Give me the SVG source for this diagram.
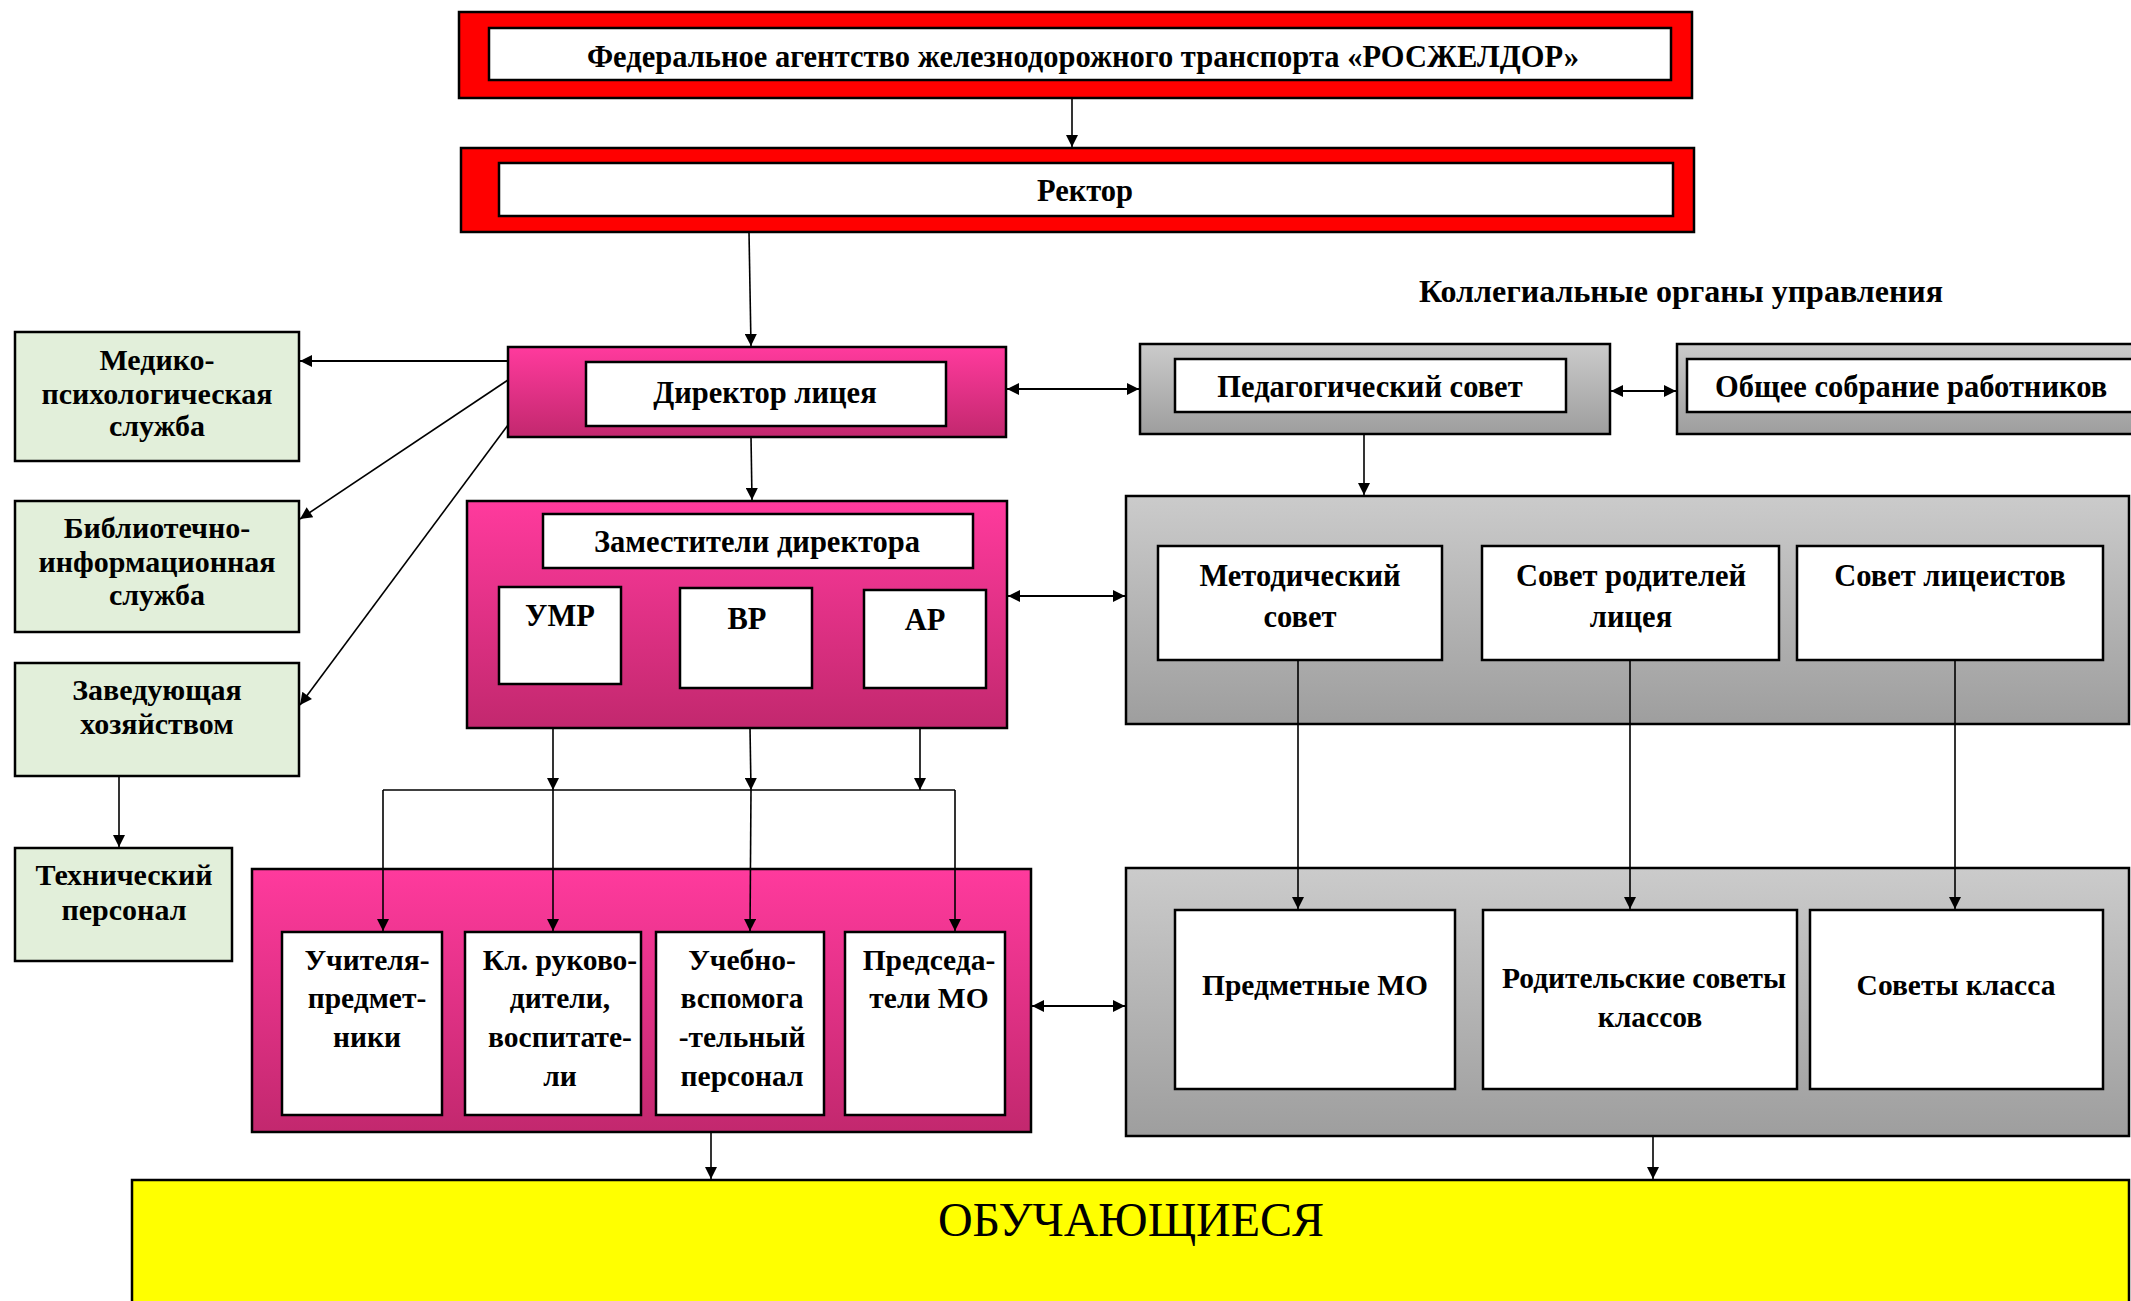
<svg xmlns="http://www.w3.org/2000/svg" width="2131" height="1301" viewBox="0 0 2131 1301">
<style>
text{font-family:"Liberation Serif","Times New Roman",serif;font-weight:bold;font-size:30.5px;fill:#000;text-anchor:middle}
.sm{font-size:29.5px}
.gr{font-size:30px}
.red{fill:#FF0000;stroke:#000;stroke-width:2.5}
.white{fill:#FFFFFF;stroke:#000;stroke-width:2.5}
.pink{fill:url(#gPink);stroke:#000;stroke-width:2.5}
.gray{fill:url(#gGray);stroke:#000;stroke-width:2.5}
.green{fill:#E2EFDA;stroke:#000;stroke-width:2.5}
.yellow{fill:#FFFF00;stroke:#000;stroke-width:2.5}
.c{fill:none;stroke:#000;stroke-width:1.6}
.c2{fill:none;stroke:#000;stroke-width:2.2}
.a{marker-end:url(#ah)}
.d{marker-start:url(#ah);marker-end:url(#ah)}
</style>
<defs>
<linearGradient id="gPink" x1="0" y1="0" x2="0" y2="1">
<stop offset="0" stop-color="#FF3A9D"/>
<stop offset="1" stop-color="#C2286E"/>
</linearGradient>
<linearGradient id="gGray" x1="0" y1="0" x2="0" y2="1">
<stop offset="0" stop-color="#CBCBCB"/>
<stop offset="1" stop-color="#9E9E9E"/>
</linearGradient>
<marker id="ah" viewBox="0 0 10 10" refX="10" refY="5" markerUnits="userSpaceOnUse" markerWidth="16" markerHeight="12" orient="auto-start-reverse">
<path d="M0,0 L10,5 L0,10 z" fill="#000"/>
</marker>
</defs>

<g id="n-fed">
<rect class="red" x="459" y="12" width="1233" height="86"/>
<rect class="white" x="489" y="28" width="1182" height="52"/>
<text x="1083" y="67">Федеральное агентство железнодорожного транспорта «РОСЖЕЛДОР»</text>
</g>

<g id="n-rector">
<rect class="red" x="461" y="148" width="1233" height="84"/>
<rect class="white" x="499" y="163" width="1174" height="53"/>
<text x="1085" y="201">Ректор</text>
</g>

<g id="n-director">
<rect class="pink" x="508" y="347" width="498" height="90"/>
<rect class="white" x="586" y="362" width="360" height="64"/>
<text x="765" y="403">Директор лицея</text>
</g>

<g id="n-medical">
<rect class="green" x="15" y="332" width="284" height="129"/>
<text class="gr" x="157" y="370">Медико-</text>
<text class="gr" x="157" y="404">психологическая</text>
<text class="gr" x="157" y="436">служба</text>
</g>

<g id="n-library">
<rect class="green" x="15" y="501" width="284" height="131"/>
<text class="gr" x="157" y="538">Библиотечно-</text>
<text class="gr" x="157" y="572">информационная</text>
<text class="gr" x="157" y="605">служба</text>
</g>

<g id="n-household">
<rect class="green" x="15" y="663" width="284" height="113"/>
<text class="gr" x="157" y="700">Заведующая</text>
<text class="gr" x="157" y="734">хозяйством</text>
</g>

<g id="n-tech">
<rect class="green" x="15" y="848" width="217" height="113"/>
<text class="gr" x="124" y="885">Технический</text>
<text class="gr" x="124" y="920">персонал</text>
</g>

<g id="n-deputies">
<rect class="pink" x="467" y="501" width="540" height="227"/>
<rect class="white" x="543" y="514" width="430" height="54"/>
<text x="757" y="552">Заместители директора</text>
<rect class="white" x="499" y="587" width="122" height="97"/>
<text x="560" y="626">УМР</text>
<rect class="white" x="680" y="588" width="132" height="100"/>
<text x="747" y="629">ВР</text>
<rect class="white" x="864" y="590" width="122" height="98"/>
<text x="925" y="630">АР</text>
</g>

<g id="n-collegial-title">
<text x="1681" y="302" style="font-size:32px">Коллегиальные органы управления</text>
</g>

<g id="n-pedsovet">
<rect class="gray" x="1140" y="344" width="470" height="90"/>
<rect class="white" x="1175" y="359" width="391" height="53"/>
<text x="1370" y="397">Педагогический совет</text>
</g>

<g id="n-general">
<rect class="gray" x="1677" y="344" width="480" height="90"/>
<rect class="white" x="1687" y="359" width="470" height="53"/>
<text x="1715" y="397" style="text-anchor:start">Общее собрание работников</text>
</g>

<g id="n-councils">
<rect class="gray" x="1126" y="496" width="1003" height="228"/>
<rect class="white" x="1158" y="546" width="284" height="114"/>
<text x="1300" y="586">Методический</text>
<text x="1300" y="627">совет</text>
<rect class="white" x="1482" y="546" width="297" height="114"/>
<text x="1631" y="586">Совет родителей</text>
<text x="1631" y="627">лицея</text>
<rect class="white" x="1797" y="546" width="306" height="114"/>
<text x="1950" y="586">Совет лицеистов</text>
</g>

<g id="n-staff">
<rect class="pink" x="252" y="869" width="779" height="263"/>
<rect class="white" x="282" y="932" width="160" height="183"/>
<text class="sm" x="367" y="970">Учителя-</text>
<text class="sm" x="367" y="1008">предмет-</text>
<text class="sm" x="367" y="1047">ники</text>
<rect class="white" x="465" y="932" width="176" height="183"/>
<text class="sm" x="560" y="970">Кл. руково-</text>
<text class="sm" x="560" y="1008">дители,</text>
<text class="sm" x="560" y="1047">воспитате-</text>
<text class="sm" x="560" y="1086">ли</text>
<rect class="white" x="656" y="932" width="168" height="183"/>
<text class="sm" x="742" y="970">Учебно-</text>
<text class="sm" x="742" y="1008">вспомога</text>
<text class="sm" x="742" y="1047">-тельный</text>
<text class="sm" x="742" y="1086">персонал</text>
<rect class="white" x="845" y="932" width="160" height="183"/>
<text class="sm" x="929" y="970">Председа-</text>
<text class="sm" x="929" y="1008">тели МО</text>
</g>

<g id="n-class-councils">
<rect class="gray" x="1126" y="868" width="1003" height="268"/>
<rect class="white" x="1175" y="910" width="280" height="179"/>
<text class="sm" x="1315" y="995">Предметные МО</text>
<rect class="white" x="1483" y="910" width="314" height="179"/>
<text class="sm" x="1644" y="988">Родительские советы</text>
<text class="sm" x="1650" y="1027">классов</text>
<rect class="white" x="1810" y="910" width="293" height="179"/>
<text class="sm" x="1956" y="995">Советы класса</text>
</g>

<g id="n-students">
<rect class="yellow" x="132" y="1180" width="1997" height="140"/>
<text x="1131" y="1236" style="font-weight:normal;font-size:48px">ОБУЧАЮЩИЕСЯ</text>
</g>

<g id="connectors">
<line class="c a" x1="1072" y1="99" x2="1072" y2="147"/>
<line class="c a" x1="749" y1="232" x2="751" y2="346"/>
<line class="c a" x1="751" y1="437" x2="752" y2="500"/>
<line class="c2 a" x1="508" y1="361" x2="300" y2="361"/>
<line class="c a" x1="508" y1="380" x2="300" y2="519"/>
<line class="c a" x1="508" y1="425" x2="300" y2="705"/>
<line class="c a" x1="119" y1="776" x2="119" y2="847"/>
<line class="c2 d" x1="1007" y1="389" x2="1139" y2="389"/>
<line class="c2 d" x1="1611" y1="391" x2="1676" y2="391"/>
<line class="c a" x1="1364" y1="434" x2="1364" y2="495"/>
<line class="c2 d" x1="1008" y1="596" x2="1125" y2="596"/>
<line class="c2 d" x1="1032" y1="1006" x2="1125" y2="1006"/>
<line class="c a" x1="553" y1="728" x2="553" y2="790"/>
<line class="c a" x1="750" y1="728" x2="751" y2="790"/>
<line class="c a" x1="920" y1="728" x2="920" y2="790"/>
<polyline class="c" points="383,790 955,790"/>
<line class="c a" x1="383" y1="790" x2="383" y2="931"/>
<line class="c a" x1="553" y1="790" x2="553" y2="931"/>
<line class="c a" x1="751" y1="790" x2="750" y2="931"/>
<line class="c a" x1="955" y1="790" x2="955" y2="931"/>
<line class="c a" x1="1298" y1="660" x2="1298" y2="909"/>
<line class="c a" x1="1630" y1="660" x2="1630" y2="909"/>
<line class="c a" x1="1955" y1="660" x2="1955" y2="909"/>
<line class="c a" x1="711" y1="1132" x2="711" y2="1179"/>
<line class="c a" x1="1653" y1="1136" x2="1653" y2="1179"/>
</g>
</svg>
